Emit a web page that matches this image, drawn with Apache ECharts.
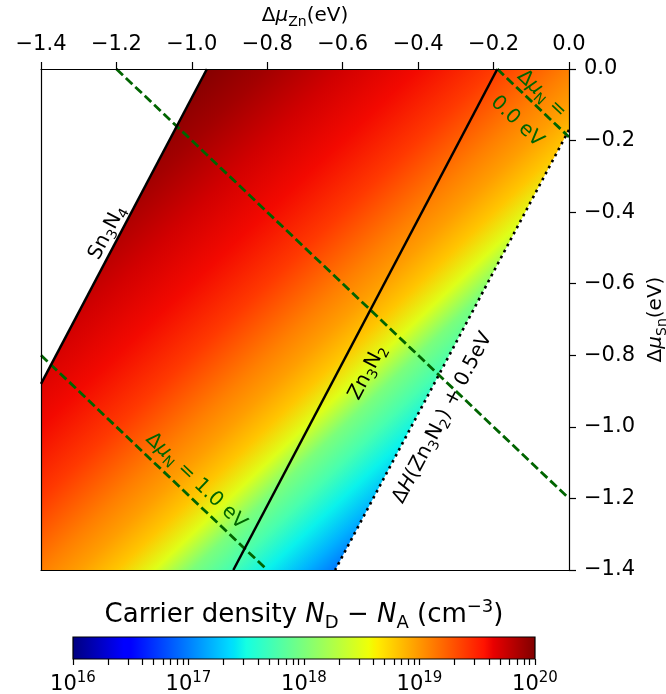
<!DOCTYPE html>
<html>
<head>
<meta charset="utf-8">
<script src="https://cdn.jsdelivr.net/npm/echarts@6/dist/echarts.min.js"></script>
<style>
html, body { margin: 0; padding: 0; background: #fff; }
#chart { width: 666px; height: 694px; }
</style>
</head>
<body>
<div id="chart"></div>
<script>
// boundary lines, [Δμ_Zn, Δμ_Sn] end points in eV
var sn3n4Line = [[-0.96, 0.0], [-1.4, -0.88]];
var zn3n2Line = [[-0.19, 0.0], [-0.89, -1.4]];
var dhLine = [[0.0, -0.17], [-0.62, -1.4]];      // ΔH(Zn3N2) + 0.5eV
var muN0Line = [[-0.19, 0.0], [0.0, -0.19]];
var muNHalfLine = [[-1.2, 0.0], [0.0, -1.2]];
var muN1Line = [[-1.4, -0.8], [-0.8, -1.4]];

// carrier density across the stable region, read along s = Δμ_Sn - Δμ_Zn
var sVals = [0.96, 0.8, 0.6, 0.4, 0.2, 0.0, -0.1, -0.2, -0.3, -0.4, -0.5, -0.6, -0.7, -0.8];
var logN = [19.98, 19.88, 19.72, 19.6, 19.4, 19.1, 18.97, 18.8, 18.48, 18.0, 17.75, 17.45, 17.2, 16.92];

// colorbar ticks (log10 cm^-3)
var cbarDecades = [16, 17, 18, 19, 20];
var cbarMinor = [2, 3, 4, 5, 6, 7, 8, 9];

var annotations = [
    { text: '{n|Sn}{sb|3}{n|N}{sb|4}', at: [-1.224, -0.457], along: sn3n4Line, color: '#000' },
    { text: '{n|Zn}{sb|3}{n|N}{sb|2}', at: [-0.534, -0.848], along: zn3n2Line, color: '#000' },
    { text: '{n|Δ}{i|H}{n|(Zn}{sb|3}{n|N}{sb|2}{n|) + 0.5eV}', at: [-0.335, -0.975], along: dhLine, color: '#000' },
    { text: '{n|Δ}{i|μ}{sb|N}{n| = 1.0 eV}', at: [-0.989, -1.152], along: muN1Line, color: '#006400' },
    { text: '{n|Δ}{i|μ}{sb|N}{n| =}', at: [-0.072, -0.07], along: muN0Line, color: '#006400' },
    { text: '{n|0.0 eV}', at: [-0.138, -0.147], along: muN0Line, color: '#006400' }
];

var FONT = 'DejaVu Sans';
var GREEN = '#006400';

// matplotlib jet
var jetR = [[0, 0], [0.35, 0], [0.66, 1], [0.89, 1], [1, 0.5]];
var jetG = [[0, 0], [0.125, 0], [0.375, 1], [0.64, 1], [0.91, 0], [1, 0]];
var jetB = [[0, 0.5], [0.11, 1], [0.34, 1], [0.65, 0], [1, 0]];
function seg(pts, t) {
    for (var i = 1; i < pts.length; i++) {
        if (t <= pts[i][0]) {
            var a = pts[i - 1], b = pts[i];
            return a[1] + (b[1] - a[1]) * (t - a[0]) / (b[0] - a[0]);
        }
    }
    return pts[pts.length - 1][1];
}
function jet(t) {
    t = Math.max(0, Math.min(1, t));
    return 'rgb(' + Math.round(seg(jetR, t) * 255) + ',' + Math.round(seg(jetG, t) * 255) + ',' + Math.round(seg(jetB, t) * 255) + ')';
}
function norm(v) { return (v - 16) / 4; }

function richSet(size, color) {
    var sub = Math.round(size * 0.7);
    var lh = Math.round(size * 1.3);
    return {
        n: { fontSize: size, fontFamily: FONT, color: color, fill: color, lineHeight: lh },
        i: { fontSize: size, fontFamily: FONT, fontStyle: 'italic', color: color, fill: color, lineHeight: lh },
        sb: { fontSize: sub, fontFamily: FONT, color: color, fill: color, lineHeight: sub, verticalAlign: 'bottom' },
        sp: { fontSize: sub, fontFamily: FONT, color: color, fill: color, lineHeight: sub, verticalAlign: 'top' }
    };
}

function fmt(v) {
    var s = Math.abs(v).toFixed(1);
    return (v < -1e-9 ? '\u2212' : '') + s;
}

var cbarTicks = [];
cbarDecades.forEach(function (d, i) {
    cbarTicks.push(d);
    if (i < cbarDecades.length - 1) {
        cbarMinor.forEach(function (k) { cbarTicks.push(d + Math.log10(k)); });
    }
});

var regionPts = [
    sn3n4Line[0], [0, 0], dhLine[0], dhLine[1], [-1.4, -1.4], sn3n4Line[1]
];

function lineSeries(pts, color, width, type) {
    return {
        type: 'line', xAxisIndex: 0, yAxisIndex: 0,
        data: pts, symbol: 'none', z: 3, silent: true,
        lineStyle: { color: color, width: width, type: type, cap: 'butt' }
    };
}

var dom = document.getElementById('chart');
var myChart = echarts.init(dom, null, { renderer: 'canvas' });

var option = {
    animation: false,
    backgroundColor: '#fff',
    grid: [
        { left: 41, right: 97, top: 69, bottom: 124, outerBoundsMode: 'none', containLabel: false },
        { left: 73, width: 462, top: 637, height: 22, outerBoundsMode: 'none', containLabel: false }
    ],
    xAxis: [
        {
            gridIndex: 0, type: 'value', position: 'top', min: -1.4, max: 0, interval: 0.2, z: 10,
            name: '{n|Δ}{i|μ}{sb|Zn}{n|(eV)}', nameLocation: 'middle', nameGap: 40,
            nameTextStyle: { rich: richSet(20, '#000') },
            axisLine: { onZero: false, lineStyle: { color: '#000', width: 1.2 } },
            axisTick: { length: 7, lineStyle: { color: '#000', width: 1.2 } },
            axisLabel: { margin: 14, fontSize: 21, fontFamily: FONT, color: '#000', formatter: fmt },
            splitLine: { show: false }
        },
        {
            gridIndex: 0, type: 'value', position: 'bottom', min: -1.4, max: 0, z: 10,
            axisLine: { onZero: false, lineStyle: { color: '#000', width: 1.2 } },
            axisTick: { show: false }, axisLabel: { show: false }, splitLine: { show: false }
        },
        {
            gridIndex: 1, type: 'value', position: 'bottom', min: 16, max: 20, z: 10,
            axisLine: { show: false, onZero: false },
            axisTick: { customValues: cbarTicks, length: 6, lineStyle: { color: '#000', width: 1.2 } },
            axisLabel: {
                customValues: cbarDecades, margin: 12,
                formatter: function (v) { return '{n|10}{sp|' + Math.round(v) + '}'; },
                rich: richSet(21, '#000')
            },
            splitLine: { show: false }
        }
    ],
    yAxis: [
        {
            gridIndex: 0, type: 'value', position: 'right', min: -1.4, max: 0, interval: 0.2, z: 10,
            name: '{n|Δ}{i|μ}{sb|Sn}{n|(eV)}', nameLocation: 'middle', nameRotate: 90, nameGap: 74,
            nameTextStyle: { rich: richSet(20, '#000') },
            axisLine: { onZero: false, lineStyle: { color: '#000', width: 1.2 } },
            axisTick: { length: 7, lineStyle: { color: '#000', width: 1.2 } },
            axisLabel: { margin: 15, fontSize: 21, fontFamily: FONT, color: '#000', formatter: fmt },
            splitLine: { show: false }
        },
        {
            gridIndex: 0, type: 'value', position: 'left', min: -1.4, max: 0, z: 10,
            axisLine: { onZero: false, lineStyle: { color: '#000', width: 1.2 } },
            axisTick: { show: false }, axisLabel: { show: false }, splitLine: { show: false }
        },
        { gridIndex: 1, type: 'value', min: 0, max: 1, show: false }
    ],
    graphic: [{
        type: 'text', x: 304, y: 615, z: 10,
        style: {
            text: '{n|Carrier density }{i|N}{sb|D}{n| \u2212 }{i|N}{sb|A}{n| (cm}{sp|\u22123}{n|)}',
            rich: richSet(26, '#000'), align: 'center', verticalAlign: 'middle'
        }
    }],
    series: [
        {
            // stable region coloured by carrier density
            type: 'custom', xAxisIndex: 0, yAxisIndex: 0, z: 1, silent: true,
            data: [[0, 0]],
            renderItem: function (params, api) {
                var pts = regionPts.map(function (p) { return api.coord(p); });
                var o = api.coord([0, 0]), u = api.coord([1, 1]);
                var ux = u[0] - o[0], uy = u[1] - o[1];
                var len = Math.sqrt(ux * ux + uy * uy);
                var nx = -uy / len, ny = ux / len;
                var p0 = api.coord([0, sVals[0]]);
                var dist = sVals.map(function (s) {
                    var p = api.coord([0, s]);
                    return (p[0] - p0[0]) * nx + (p[1] - p0[1]) * ny;
                });
                var dEnd = dist[dist.length - 1];
                var stops = logN.map(function (v, i) {
                    return { offset: dist[i] / dEnd, color: jet(norm(v)) };
                });
                var grad = new echarts.graphic.LinearGradient(
                    p0[0], p0[1], p0[0] + nx * dEnd, p0[1] + ny * dEnd, stops, true);
                return { type: 'polygon', shape: { points: pts }, style: { fill: grad } };
            }
        },
        lineSeries(muNHalfLine, GREEN, 2.8, [9, 4]),
        lineSeries(muN0Line, GREEN, 2.8, [9, 4]),
        lineSeries(muN1Line, GREEN, 2.8, [9, 4]),
        lineSeries(sn3n4Line, '#000', 2.5, 'solid'),
        lineSeries(zn3n2Line, '#000', 2.5, 'solid'),
        lineSeries(dhLine, '#000', 2.6, [2.6, 4.2]),
        {
            type: 'custom', xAxisIndex: 0, yAxisIndex: 0, z: 5, silent: true,
            data: annotations.map(function (a) { return a.at; }),
            renderItem: function (params, api) {
                var a = annotations[params.dataIndex];
                var p = api.coord(a.at);
                var q0 = api.coord(a.along[0]), q1 = api.coord(a.along[1]);
                var ang = Math.atan2(-(q1[1] - q0[1]), q1[0] - q0[0]);
                if (ang > Math.PI / 2) ang -= Math.PI;
                if (ang < -Math.PI / 2) ang += Math.PI;
                return {
                    type: 'text', x: p[0], y: p[1], rotation: ang,
                    style: { text: a.text, rich: richSet(20, a.color), align: 'center', verticalAlign: 'middle' }
                };
            }
        },
        {
            // colorbar
            type: 'custom', xAxisIndex: 2, yAxisIndex: 2, z: 2, silent: true,
            data: [[cbarDecades[0], cbarDecades[cbarDecades.length - 1]]],
            renderItem: function (params, api) {
                var a = api.coord([api.value(0), 1]), b = api.coord([api.value(1), 0]);
                var tBreaks = [0, 0.11, 0.125, 0.34, 0.35, 0.375, 0.64, 0.65, 0.66, 0.89, 0.91, 1];
                var stops = tBreaks.map(function (t) { return { offset: t, color: jet(t) }; });
                var grad = new echarts.graphic.LinearGradient(a[0], 0, b[0], 0, stops, true);
                return {
                    type: 'rect',
                    shape: { x: a[0], y: a[1], width: b[0] - a[0], height: b[1] - a[1] },
                    style: { fill: grad, stroke: '#000', lineWidth: 1.2 }
                };
            }
        }
    ]
};

myChart.setOption(option);
</script>
</body>
</html>
